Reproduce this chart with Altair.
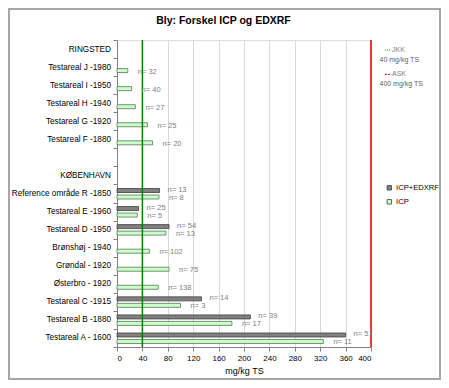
import altair as alt
import pandas as pd

title_text = "Bly: Forskel ICP og EDXRF"
categories = [
    "RINGSTED", "Testareal J -1980", "Testareal I -1950", "Testareal H -1940",
    "Testareal G -1920", "Testareal F -1880", " ", "KØBENHAVN",
    "Reference område R -1850", "Testareal E -1960", "Testareal D -1950",
    "Brønshøj  - 1940", "Grøndal  - 1920", "Østerbro - 1920",
    "Testareal C -1915", "Testareal B -1880", "Testareal A - 1600",
]
series = ["ICP+EDXRF", "ICP"]

edx_cats = ["Reference område R -1850", "Testareal E -1960", "Testareal D -1950",
            "Testareal C -1915", "Testareal B -1880", "Testareal A - 1600"]
edx_values = [67, 34, 82, 133, 210, 360]
edx_n = [13, 25, 54, 14, 39, 51]

icp_cats = ["Testareal J -1980", "Testareal I -1950", "Testareal H -1940",
            "Testareal G -1920", "Testareal F -1880", "Reference område R -1850",
            "Testareal E -1960", "Testareal D -1950", "Brønshøj  - 1940",
            "Grøndal  - 1920", "Østerbro - 1920", "Testareal C -1915",
            "Testareal B -1880", "Testareal A - 1600"]
icp_values = [17, 23, 29, 48, 56, 66, 32, 77, 51, 82, 65, 100, 181, 325]
icp_n = [32, 40, 27, 25, 20, 8, 5, 13, 102, 75, 138, 3, 17, 11]

ref_names = ["JKK", "ASK"]
ref_values = [40, 400]
ref_sub = ["40 mg/kg TS", "400 mg/kg TS"]
x_ticks = list(range(0, 401, 40))

rows = []
for c, v, n in zip(edx_cats, edx_values, edx_n):
    rows.append({"category": c, "series": series[0], "value": v, "label": f"n= {n}"})
for c, v, n in zip(icp_cats, icp_values, icp_n):
    rows.append({"category": c, "series": series[1], "value": v, "label": f"n= {n}"})
df = pd.DataFrame(rows)
ref_df = pd.DataFrame({"name": ref_names, "value": ref_values})
one = pd.DataFrame({"k": [0]})

FONT = "Liberation Sans"

x_scale = alt.Scale(domain=[0, 400], nice=False, zero=True)
x_axis = alt.Axis(
    values=x_ticks, title="mg/kg TS", grid=True, gridColor="#d9d9d9",
    gridWidth=1, tickSize=4, tickColor="#808080", domainColor="#808080",
    labelFontSize=8, labelColor="#000000", labelPadding=3, labelOverlap=False,
    titleFontSize=9, titleFontWeight="normal", titleColor="#000000",
    titlePadding=4, labelFont=FONT, titleFont=FONT,
)
x_enc = alt.X("value:Q", scale=x_scale, axis=x_axis)
y_enc = alt.Y(
    "category:N",
    sort=categories,
    scale=alt.Scale(domain=categories, paddingInner=0, paddingOuter=0),
    axis=alt.Axis(
        title=None, tickBand="extent", tickSize=4, tickColor="#808080",
        domainColor="#808080", labelFontSize=8.2, labelColor="#000000",
        labelPadding=2.5, labelFont=FONT, labelLimit=200, labelOverlap=False,
    ),
)
color_enc = alt.Color(
    "series:N",
    scale=alt.Scale(domain=series, range=["#808080", "#ccffcc"]),
    legend=alt.Legend(
        title=None, orient="none", legendX=268.5, legendY=144,
        symbolType="square", symbolSize=20, symbolStrokeColor="#404040",
        symbolStrokeWidth=0.8, labelFontSize=7.6, labelFont=FONT,
        labelColor="#000000", rowPadding=5, padding=0, labelOffset=3,
    ),
)

base = alt.Chart(df)
bars_e = base.transform_filter(alt.datum.series == series[0]).mark_bar(
    size=4, yOffset=-3, stroke="#404040", strokeWidth=0.8
).encode(x=x_enc, y=y_enc, color=color_enc)
bars_i = base.transform_filter(alt.datum.series == series[1]).mark_bar(
    size=4, yOffset=3.5, stroke="#557755", strokeWidth=0.8
).encode(x=x_enc, y=y_enc, color=color_enc)

lab_e = base.transform_filter(alt.datum.series == series[0]).mark_text(
    align="left", baseline="middle", dx=8, dy=-4, fontSize=7.5, color="#808080", font=FONT
).encode(x=x_enc, y=y_enc, text="label:N")
lab_i = base.transform_filter(alt.datum.series == series[1]).mark_text(
    align="left", baseline="middle", dx=10, dy=4.5, fontSize=7.5, color="#808080", font=FONT
).encode(x=x_enc, y=y_enc, text="label:N")

ref_rules = alt.Chart(ref_df).mark_rule(strokeWidth=1.5).encode(
    x=x_enc,
    stroke=alt.Stroke("name:N", scale=alt.Scale(domain=ref_names, range=["#008000", "#e00000"]), legend=None),
)

ann = alt.Chart(one)
title = ann.mark_text(text=title_text, fontSize=10.5, fontWeight="bold", font=FONT,
                      align="center", baseline="middle", color="#000000").encode(
    x=alt.value(106.5), y=alt.value(-19.5))
frame = ann.mark_rect(fillOpacity=0, stroke="#a6a6a6", strokeWidth=2).encode(
    x=alt.value(-108), x2=alt.value(323), y=alt.value(-31), y2=alt.value(339))
jkk_line = ann.mark_rule(color="#00a000", strokeWidth=1, strokeDash=[1, 1]).encode(
    x=alt.value(268), x2=alt.value(274), y=alt.value(10))
jkk_t = ann.mark_text(text=ref_names[0], fontSize=7, font=FONT, align="left",
                      baseline="middle", color="#808080").encode(x=alt.value(275), y=alt.value(10))
jkk_s = ann.mark_text(text=ref_sub[0], fontSize=7, font=FONT, align="left",
                      baseline="middle", color="#606060").encode(x=alt.value(262.5), y=alt.value(19.5))
ask_line = ann.mark_rule(color="#e00000", strokeWidth=1, strokeDash=[2, 1]).encode(
    x=alt.value(268), x2=alt.value(274), y=alt.value(34.3))
ask_t = ann.mark_text(text=ref_names[1], fontSize=7, font=FONT, align="left",
                      baseline="middle", color="#808080").encode(x=alt.value(275), y=alt.value(34.3))
ask_s = ann.mark_text(text=ref_sub[1], fontSize=7, font=FONT, align="left",
                      baseline="middle", color="#606060").encode(x=alt.value(262.5), y=alt.value(44.3))

chart = alt.layer(
    bars_e, bars_i, ref_rules, lab_e, lab_i,
    title, frame, jkk_line, jkk_t, jkk_s, ask_line, ask_t, ask_s,
).resolve_scale(stroke="independent").properties(
    width=254, height=307,
    autosize=alt.AutoSizeParams(type="none"),
    padding={"left": 109, "top": 32, "right": 70, "bottom": 33},
    background="#ffffff",
).configure_view(stroke=None).configure(font=FONT)

chart.save("out.html", embed_options={"renderer": "svg", "actions": False})
